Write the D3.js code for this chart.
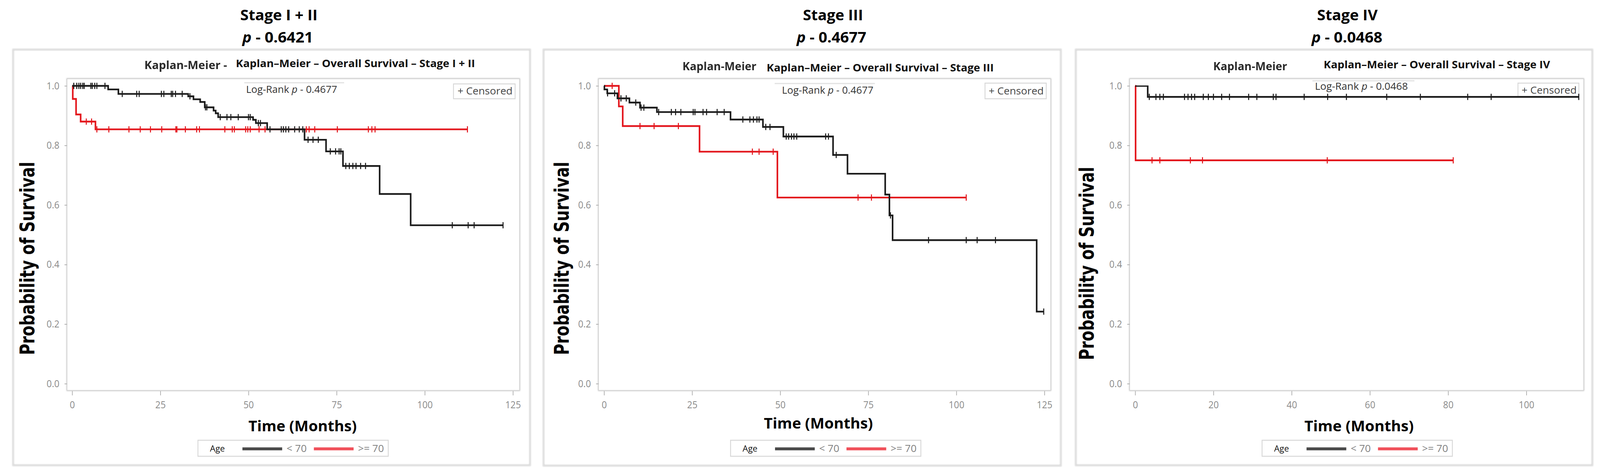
<!DOCTYPE html>
<html><head><meta charset="utf-8">
<script src="https://cdn.jsdelivr.net/npm/d3@7/dist/d3.min.js"></script>
<style>html,body{margin:0;padding:0;background:#fff;overflow:hidden;} svg{display:block;width:100vw;height:100vh;}</style>
</head><body>
<svg id="chart" viewBox="0 0 4389 1217" preserveAspectRatio="none"></svg>
<script>
// ---------------- data ----------------
const panelTitles = ["Stage I + II", "Stage III", "Stage IV"];
const panelPValues = ["0.6421", "0.4677", "0.0468"];
const logRankPValues = ["0.4677", "0.4677", "0.0468"];
const subtitles = ["Kaplan–Meier – Overall Survival – Stage I + II",
                   "Kaplan–Meier – Overall Survival – Stage III",
                   "Kaplan–Meier – Overall Survival – Stage IV"];
const subtitleLeft = ["Kaplan-Meier -", "Kaplan-Meier", "Kaplan-Meier"];
const legendTitle = "Age";
const seriesNames = ["< 70", ">= 70"];
const xTickLabelsA = [0, 25, 50, 75, 100, 125];
const xTickLabelsB = [0, 20, 40, 60, 80, 100];
const yTickLabels = [0.0, 0.2, 0.4, 0.6, 0.8, 1.0];

// Stage I + II, age < 70
const s12YoungTime = [0, 10.2, 13.1, 32.9, 34.4, 36.3, 37.6, 40.1, 40.7, 41.4, 51.3, 52.1, 55.3, 65.9, 72.0, 76.8, 87.2, 96.0];
const s12YoungSurv = [1.0, 0.988, 0.973, 0.965, 0.955, 0.946, 0.928, 0.917, 0.908, 0.895, 0.886, 0.875, 0.854, 0.819, 0.780, 0.731, 0.637, 0.532];
const s12YoungCens = [0.45, 1.3, 1.9, 2.4, 3.0, 3.4, 5.3, 5.7, 6.4, 7.0, 9.3, 14.2, 18.3, 19.0, 25.3, 26.0, 28.1, 28.5, 29.3, 31.2,
  33.4, 37.8, 38.2, 42.0, 43.9, 45.0, 47.1, 50.0, 50.5, 52.8, 53.4, 56.1, 59.3, 59.9, 60.6, 61.4, 63.1, 64.4, 65.4,
  66.9, 68.3, 69.8, 73.2, 74.7, 75.7, 76.2, 77.6, 78.6, 79.6, 80.5, 81.8, 83.2, 107.8, 112.3, 114.0, 122.2];
// Stage I + II, age >= 70
const s12OldTime = [0, 0.17, 1.1, 2.4, 6.6];
const s12OldSurv = [1.0, 0.956, 0.904, 0.880, 0.854];
const s12OldCens = [4.0, 5.5, 7.0, 10.4, 16.1, 19.3, 22.2, 25.4, 29.4, 29.7, 32.1, 35.3, 36.1, 43.3, 45.4, 46.0, 49.2, 49.8,
  50.5, 53.0, 54.7, 66.4, 67.2, 68.8, 75.2, 84.0, 85.0, 85.9, 112.1];

// Stage III, age < 70
const s3YoungTime = [0, 0.1, 0.9, 3.8, 7.2, 10.2, 15.0, 35.9, 45.1, 50.9, 65.0, 69.1, 79.8, 81.0, 81.9, 122.8];
const s3YoungSurv = [1.0, 0.988, 0.975, 0.958, 0.944, 0.927, 0.912, 0.887, 0.862, 0.830, 0.768, 0.705, 0.635, 0.565, 0.482, 0.242];
const s3YoungCens = [1.0, 3.0, 4.8, 6.3, 9.0, 10.5, 11.3, 15.5, 19.1, 20.3, 21.8, 25.3, 25.8, 28.1, 29.1, 32.1, 34.1, 39.4, 41.4,
  42.4, 43.4, 44.0, 45.9, 47.1, 51.7, 52.4, 53.2, 53.9, 54.7, 62.9, 63.7, 65.9, 81.3, 92.1, 102.8, 105.9, 111.1, 124.8];
// Stage III, age >= 70
const s3OldTime = [0, 4.2, 5.3, 27.1, 49.2];
const s3OldSurv = [1.0, 0.931, 0.865, 0.779, 0.625];
const s3OldCens = [2.3, 10.2, 14.2, 21.1, 42.1, 44.0, 48.0, 72.1, 75.9, 102.8];

// Stage IV, age < 70
const s4YoungTime = [0, 3.2];
const s4YoungSurv = [1.0, 0.963];
const s4YoungCens = [3.6, 5.3, 6.3, 7.2, 12.6, 13.5, 14.4, 15.2, 17.4, 18.7, 20.0, 22.1, 24.1, 29.0, 31.1, 35.3, 36.0, 43.2,
  49.2, 54.0, 64.3, 72.9, 85.0, 91.0, 113.4];
// Stage IV, age >= 70
const s4OldTime = [0, 0.1];
const s4OldSurv = [1.0, 0.75];
const s4OldCens = [4.3, 6.3, 14.1, 17.2, 49.1, 81.3];

// ---------------- layout / style ----------------
const BLACK = "#1c1c1c", RED = "#e3141b";
const LEG_BLACK = "#4a4a4a", LEG_RED = "#f0505a";
const FONT = "'Open Sans', 'Noto Sans', sans-serif";
const SX = 1.12;

const panels = [
  { box: [36, 127, 1454, 1192], plot: [184, 202, 1425, 1000], xr: [198, 1407], xdom: [0, 125], xticks: xTickLabelsA,
    titleX: 765, titleW: 212, pX: 762, pW: 194, kmLeftX: 396, kmLeftW: 227, kmLeftY: 177, subX: 647, subW: 656, subY: 172,
    logX: 675, logW: 250, logY: 238, logLine: [670, 944, 212],
    cbox: [1244, 215, 1413, 253], ctextX: 1255, ctextY: 242, legX: 543, timeX: 830, timeW: 297, timeY: 1105, ylabX: 94, ylabY: 662,
    young: [s12YoungTime, s12YoungSurv, s12YoungCens], old: [s12OldTime, s12OldSurv, s12OldCens] },
  { box: [1491, 127, 2910, 1193], plot: [1642, 202, 2882, 1000], xr: [1657, 2865], xdom: [0, 125], xticks: xTickLabelsA,
    titleX: 2285, titleW: 165, pX: 2281, pW: 191, kmLeftX: 1872, kmLeftW: 203, kmLeftY: 180, subX: 2103, subW: 623, subY: 183,
    logX: 2145, logW: 251, logY: 240, logLine: [2125, 2400, 214],
    cbox: [2702, 213, 2870, 253], ctextX: 2712, ctextY: 242, legX: 2004, timeX: 2245, timeW: 299, timeY: 1098, ylabX: 1560, ylabY: 662,
    young: [s3YoungTime, s3YoungSurv, s3YoungCens], old: [s3OldTime, s3OldSurv, s3OldCens] },
  { box: [2951, 127, 4368, 1192], plot: [3099, 202, 4344, 1000], xr: [3114, 4187], xdom: [0, 100], xticks: xTickLabelsB,
    titleX: 3696, titleW: 166, pX: 3695, pW: 194, kmLeftX: 3328, kmLeftW: 203, kmLeftY: 180, subX: 3631, subW: 621, subY: 175,
    logX: 3607, logW: 255, logY: 230, logLine: [3600, 3880, 207],
    cbox: [4164, 213, 4331, 247], ctextX: 4174, ctextY: 240, legX: 3462, timeX: 3728, timeW: 300, timeY: 1105, ylabX: 3000, ylabY: 675,
    young: [s4YoungTime, s4YoungSurv, s4YoungCens], old: [s4OldTime, s4OldSurv, s4OldCens] }
];

const svg = d3.select("#chart");
const defs = svg.append("defs");
const sh = defs.append("filter").attr("id", "shadow").attr("x", "-5%").attr("y", "-5%").attr("width", "110%").attr("height", "110%");
sh.append("feGaussianBlur").attr("stdDeviation", 1.6);
const soft = defs.append("filter").attr("id", "soft");
soft.append("feGaussianBlur").attr("stdDeviation", 0.7);
const lineBlur = defs.append("filter").attr("id", "lineBlur").attr("x", "-2%").attr("y", "-2%").attr("width", "104%").attr("height", "104%");
lineBlur.append("feGaussianBlur").attr("stdDeviation", 0.5);

function label(g, x, y, str, o) {
  const sx = o.w ? 1 : (o.sx || SX);
  const t = g.append("text")
    .attr("transform", `translate(${x},${y}) scale(${sx},1)` + (o.rot ? ` rotate(${o.rot})` : ""))
    .attr("font-family", o.ff || FONT)
    .attr("font-size", o.fs)
    .attr("font-weight", o.fw || 400)
    .attr("fill", o.fill || "#000")
    .attr("text-anchor", o.anchor || "start")
    .text(str);
  if (o.w) t.attr("textLength", o.w).attr("lengthAdjust", "spacingAndGlyphs");
  return t;
}

panels.forEach((P, i) => {
  const g = svg.append("g");
  const [bl, bt, br, bb] = P.box;
  const [pl, pt, pr, pb] = P.plot;

  // outer frame
  g.append("rect").attr("x", bl).attr("y", bt).attr("width", br - bl).attr("height", bb - bt)
    .attr("fill", "none").attr("stroke", "#cfcfcf").attr("stroke-width", 4).attr("filter", "url(#shadow)");
  g.append("rect").attr("x", bl).attr("y", bt).attr("width", br - bl).attr("height", bb - bt)
    .attr("fill", "none").attr("stroke", "#e6e6e6").attr("stroke-width", 1.5);

  // titles
  label(g, P.titleX, 52, panelTitles[i], { fs: 38, fw: 700, anchor: "middle", w: P.titleW });
  const pt2 = g.append("text").attr("transform", `translate(${P.pX},109)`)
    .attr("font-family", FONT).attr("font-size", 38).attr("font-weight", 700).attr("text-anchor", "middle")
    .attr("textLength", P.pW).attr("lengthAdjust", "spacingAndGlyphs");
  pt2.append("tspan").attr("font-style", "italic").text("p");
  pt2.append("tspan").text(" - " + panelPValues[i]);

  label(g, P.kmLeftX, P.kmLeftY, subtitleLeft[i], { fs: 28, fw: 700, fill: "#2b2b2b", w: P.kmLeftW }).attr("filter", "url(#soft)");
  label(g, P.subX, P.subY, subtitles[i], { fs: 26, fw: 700, fill: "#111", w: P.subW });

  // plot frame
  g.append("rect").attr("x", pl).attr("y", pt).attr("width", pr - pl).attr("height", pb - pt)
    .attr("fill", "none").attr("stroke", "#b8b8b8").attr("stroke-width", 3).attr("filter", "url(#shadow)");
  g.append("rect").attr("x", pl).attr("y", pt).attr("width", pr - pl).attr("height", pb - pt)
    .attr("fill", "#fff").attr("stroke", "#d4d4d4").attr("stroke-width", 1.5);

  // scales
  const x = d3.scaleLinear().domain(P.xdom).range(P.xr);
  const y = d3.scaleLinear().domain([0, 1]).range([983, 220]);

  // axes
  const ya = g.append("g").attr("transform", `translate(${pl},0)`)
    .call(d3.axisLeft(y).tickValues(yTickLabels).tickFormat(d3.format(".1f")).tickSize(7).tickPadding(14));
  const xa = g.append("g").attr("transform", `translate(0,${pb + 2})`)
    .call(d3.axisBottom(x).tickValues(P.xticks).tickFormat(d3.format("d")).tickSize(11).tickPadding(15));
  [ya, xa].forEach(a => {
    a.select(".domain").remove();
    a.selectAll(".tick line").attr("stroke", "#b0b0b0").attr("stroke-width", 2);
    a.selectAll(".tick text").attr("font-family", FONT).attr("font-size", 25).attr("fill", "#8a8a8a");
  });

  // Log-rank inset
  g.append("line").attr("x1", P.logLine[0]).attr("x2", P.logLine[1]).attr("y1", P.logLine[2]).attr("y2", P.logLine[2])
    .attr("stroke", "#e2e2e2").attr("stroke-width", 3);
  const lr = g.append("text").attr("transform", `translate(${P.logX},${P.logY})`)
    .attr("font-family", FONT).attr("font-size", 25).attr("fill", "#333")
    .attr("textLength", P.logW).attr("lengthAdjust", "spacingAndGlyphs");
  lr.append("tspan").text("Log-Rank ");
  lr.append("tspan").attr("font-style", "italic").text("p");
  lr.append("tspan").text(" - " + logRankPValues[i]);

  // censored legend box
  const [cx0, cy0, cx1, cy1] = P.cbox;
  g.append("rect").attr("x", cx0).attr("y", cy0).attr("width", cx1 - cx0).attr("height", cy1 - cy0)
    .attr("fill", "#fff").attr("stroke", "#d8d8d8").attr("stroke-width", 2.5);
  label(g, P.ctextX, P.ctextY, "+ Censored", { fs: 25, fill: "#444", w: 151 });

  // survival curves
  const line = d3.line().x(d => x(d[0])).y(d => y(d[1])).curve(d3.curveStepAfter);
  function drawCurve(series, color) {
    const [times, surv, cens] = series;
    const tEnd = Math.max(d3.max(cens), d3.max(times));
    const pts = times.map((t, k) => [t, surv[k]]);
    pts.push([tEnd, surv[surv.length - 1]]);
    const cg = g.append("g").attr("filter", "url(#lineBlur)");
    cg.append("path").datum(pts).attr("d", line).attr("fill", "none")
      .attr("stroke", color).attr("stroke-width", 4.4).attr("stroke-linejoin", "miter");
    const sAt = t => surv[Math.max(0, d3.bisectRight(times, t) - 1)];
    cg.append("g").selectAll("line").data(cens).join("line")
      .attr("x1", d => x(d)).attr("x2", d => x(d))
      .attr("y1", d => y(sAt(d)) - 8).attr("y2", d => y(sAt(d)) + 8)
      .attr("stroke", color).attr("stroke-width", 2.8);
  }
  drawCurve(P.old, RED);
  drawCurve(P.young, BLACK);

  // axis titles
  label(g, P.timeX, P.timeY, "Time (Months)", { fs: 38, fw: 700, anchor: "middle", w: P.timeW });
  label(g, P.ylabX, P.ylabY, "Probability of Survival",
    { fs: 40, fw: 700, anchor: "middle", sx: 1.4, rot: -90, ff: "'DejaVu Sans', sans-serif" })
    .attr("textLength", 495).attr("lengthAdjust", "spacingAndGlyphs");

  // bottom legend
  const lx = P.legX;
  g.append("rect").attr("x", lx).attr("y", 1128).attr("width", 522).attr("height", 41)
    .attr("fill", "#fff").attr("stroke", "#d8d8d8").attr("stroke-width", 2.5);
  label(g, lx + 33, 1157, legendTitle, { fs: 21, fill: "#111" });
  const legItems = [[seriesNames[0], LEG_BLACK, 122], [seriesNames[1], LEG_RED, 318]];
  legItems.forEach(([name, col, off]) => {
    g.append("line").attr("x1", lx + off).attr("x2", lx + off + 109).attr("y1", 1150).attr("y2", 1150)
      .attr("stroke", col).attr("stroke-width", 7.5);
    label(g, lx + off + 121, 1158, name, { fs: 25, fill: "#808080" });
  });
});
</script>
</body></html>
